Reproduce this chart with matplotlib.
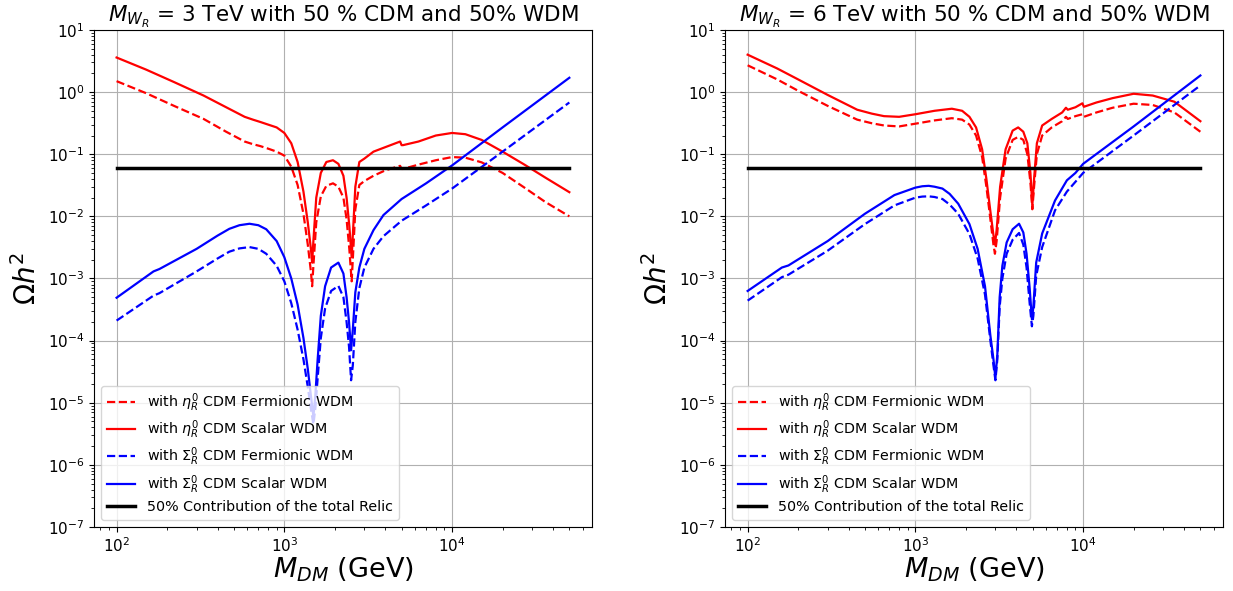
import matplotlib
matplotlib.use("Agg")
import matplotlib.pyplot as plt
from matplotlib.ticker import LogLocator, NullFormatter

# ---------------- data ----------------
# Left panel: M_WR = 3 TeV
relic_half = 0.06

m_eta_l = [100, 150, 220, 330, 450, 580, 650, 720, 800, 900, 1000, 1100, 1200, 1300, 1380, 1440, 1465,
           1490, 1550, 1650, 1780, 1950, 2100, 2250, 2350, 2440, 2520, 2570, 2650, 2800, 3000,
           3400, 4000, 4900, 5000, 5100, 6300, 8000, 10000, 12000, 15000, 20000, 27000, 36000, 50000]
eta_scalar_l = [3.6, 2.3, 1.45, 0.88, 0.57, 0.40, 0.36, 0.33, 0.30, 0.27, 0.22, 0.15, 0.075, 0.025, 0.008, 0.003, 0.0018,
                0.004, 0.02, 0.05, 0.075, 0.08, 0.07, 0.045, 0.02, 0.007, 0.0022, 0.006, 0.03, 0.075, 0.085,
                0.11, 0.13, 0.16, 0.14, 0.14, 0.16, 0.2, 0.22, 0.21, 0.17, 0.11, 0.068, 0.042, 0.0245]
eta_fermion_l = [1.5, 0.96, 0.6, 0.37, 0.23, 0.16, 0.145, 0.135, 0.123, 0.11, 0.095, 0.063, 0.032, 0.011, 0.0035, 0.0013, 0.00075,
                 0.0016, 0.008, 0.021, 0.031, 0.034, 0.03, 0.02, 0.009, 0.003, 0.0009, 0.0025, 0.013, 0.032, 0.037,
                 0.045, 0.055, 0.065, 0.058, 0.058, 0.068, 0.08, 0.09, 0.088, 0.074, 0.05, 0.029, 0.017, 0.01]

m_sig_l = [100, 166, 180, 300, 400, 470, 540, 620, 700, 780, 900, 1000, 1100, 1200, 1300, 1380, 1440, 1490, 1530,
           1580, 1650, 1750, 1900, 2100, 2250, 2350, 2430, 2500, 2560, 2650, 2800, 3000, 3400, 3900,
           5000, 7000, 10000, 20000, 50000]
sig_scalar_l = [4.9e-4, 1.3e-3, 1.42e-3, 3.0e-3, 4.9e-3, 6.3e-3, 7.2e-3, 7.6e-3, 7.2e-3, 6.2e-3, 4.0e-3, 2.2e-3, 1.0e-3,
                3.8e-4, 1.1e-4, 3.5e-5, 1.3e-5, 6e-6, 1.3e-5, 5e-5, 2.5e-4, 7.5e-4, 1.5e-3, 1.8e-3, 1.2e-3, 5e-4,
                2e-4, 7e-5, 1.5e-4, 6e-4, 1.5e-3, 3e-3, 6e-3, 1.05e-2, 1.9e-2, 3.4e-2, 6.6e-2, 0.27, 1.7]
sig_fermion_l = [2.1e-4, 5.3e-4, 5.8e-4, 1.3e-3, 2.1e-3, 2.7e-3, 3.05e-3, 3.2e-3, 3.0e-3, 2.5e-3, 1.6e-3, 9e-4, 4e-4,
                 1.5e-4, 5e-5, 1.8e-5, 8e-6, 4.5e-6, 8e-6, 2.5e-5, 1.1e-4, 3.3e-4, 6.3e-4, 7.6e-4, 5e-4, 2e-4,
                 8e-5, 2.3e-5, 4e-5, 2e-4, 7e-4, 1.5e-3, 3e-3, 4.8e-3, 8.5e-3, 1.5e-2, 2.8e-2, 0.11, 0.68]

# Right panel: M_WR = 6 TeV
m_eta_r = [100, 150, 200, 300, 450, 550, 650, 800, 1000, 1300, 1650, 1900, 2100, 2300, 2500, 2650, 2800,
           2920, 2980, 3050, 3200, 3450, 3800, 4100, 4400, 4650, 4850, 4980, 5100, 5300, 5700, 6500,
           7500, 7900, 8100, 9000, 9900, 10100, 12000, 15000, 20000, 26000, 35000, 50000]
eta_scalar_r = [4.0, 2.4, 1.6, 0.9, 0.52, 0.45, 0.41, 0.40, 0.44, 0.5, 0.54, 0.5, 0.4, 0.27, 0.12, 0.04, 0.012,
                0.005, 0.0035, 0.006, 0.03, 0.12, 0.24, 0.27, 0.23, 0.15, 0.05, 0.015, 0.04, 0.15, 0.29, 0.37,
                0.47, 0.56, 0.52, 0.57, 0.66, 0.58, 0.68, 0.8, 0.94, 0.88, 0.7, 0.34]
eta_fermion_r = [2.7, 1.6, 1.05, 0.6, 0.36, 0.315, 0.29, 0.28, 0.31, 0.35, 0.38, 0.36, 0.3, 0.2, 0.09, 0.03, 0.009,
                 0.0035, 0.0025, 0.004, 0.02, 0.085, 0.17, 0.19, 0.17, 0.1, 0.035, 0.013, 0.03, 0.1, 0.2, 0.27,
                 0.34, 0.4, 0.37, 0.41, 0.44, 0.4, 0.47, 0.56, 0.65, 0.62, 0.47, 0.23]

m_sig_r = [100, 160, 175, 300, 500, 750, 1000, 1100, 1200, 1300, 1450, 1600, 1800, 2100, 2350, 2600, 2800, 2920, 3000,
           3080, 3180, 3300, 3500, 3800, 4150, 4400, 4600, 4800, 4950, 5050, 5250, 5700, 6800, 8000,
           9000, 10000, 20000, 50000]
sig_scalar_r = [6.3e-4, 1.5e-3, 1.62e-3, 4e-3, 0.011, 0.022, 0.029, 0.0305, 0.031, 0.030, 0.028, 0.023, 0.016, 7.5e-3,
                3e-3, 7.5e-4, 1.2e-4, 5e-5, 2.5e-5, 6e-5, 5e-4, 1.6e-3, 3.8e-3, 6.2e-3, 7.6e-3, 5.5e-3, 2.5e-3,
                7e-4, 2.2e-4, 3.5e-4, 1.8e-3, 5.3e-3, 0.018, 0.038, 0.05, 0.07, 0.28, 1.85]
sig_fermion_r = [4.4e-4, 1.05e-3, 1.15e-3, 2.8e-3, 7.5e-3, 0.015, 0.02, 0.0208, 0.021, 0.0205, 0.019, 0.0155, 0.011,
                 5.2e-3, 2.1e-3, 5.5e-4, 1e-4, 4e-5, 2.3e-5, 5e-5, 3.5e-4, 1e-3, 2.5e-3, 4.2e-3, 5.4e-3, 3.5e-3,
                 1.5e-3, 4e-4, 1.7e-4, 2.5e-4, 1.1e-3, 3.2e-3, 0.0125, 0.025, 0.036, 0.05, 0.2, 1.28]

m_range = [100, 50000]

panels = [
    ("3", m_eta_l, eta_fermion_l, eta_scalar_l, m_sig_l, sig_fermion_l, sig_scalar_l),
    ("6", m_eta_r, eta_fermion_r, eta_scalar_r, m_sig_r, sig_fermion_r, sig_scalar_r),
]

fig = plt.figure(figsize=(12.33, 5.91), dpi=100)
ax_pos = [[0.0762, 0.1083, 0.4039, 0.841], [0.588, 0.1083, 0.4039, 0.841]]

for pos, (mwr, m_eta, eta_f, eta_s, m_sig, sig_f, sig_s) in zip(ax_pos, panels):
    ax = fig.add_axes(pos)
    ax.plot(m_eta, eta_f, 'r', linestyle='dashed', lw=1.6, label=r'with $\eta_R^0$ CDM Fermionic WDM')
    ax.plot(m_eta, eta_s, 'r', linestyle='solid', lw=1.6, label=r'with $\eta_R^0$ CDM Scalar WDM')
    ax.plot(m_sig, sig_f, 'b', linestyle='dashed', lw=1.6, label=r'with $\Sigma_R^0$ CDM Fermionic WDM')
    ax.plot(m_sig, sig_s, 'b', linestyle='solid', lw=1.6, label=r'with $\Sigma_R^0$ CDM Scalar WDM')
    ax.plot(m_range, [relic_half, relic_half], 'k', lw=2.5, label='50% Contribution of the total Relic')
    ax.set_xscale('log')
    ax.set_yscale('log')
    ax.set_ylim(1e-7, 10)
    ax.yaxis.set_major_locator(LogLocator(base=10, numticks=20))
    ax.yaxis.set_minor_locator(LogLocator(base=10, subs=range(2, 10), numticks=100))
    ax.yaxis.set_minor_formatter(NullFormatter())
    ax.grid(which='major', color='#b0b0b0', lw=0.8)
    ax.tick_params(labelsize=11)
    ax.set_title(r'$M_{W_R}$ = ' + mwr + ' TeV with 50 % CDM and 50% WDM', fontsize=15.5)
    ax.set_xlabel(r'$M_{DM}$ (GeV)', fontsize=19.5, labelpad=0)
    ax.set_ylabel(r'$\Omega h^2$', fontsize=20)
    leg = ax.legend(loc='lower left', fontsize=10.3, labelspacing=0.32)

fig.savefig("out.png", dpi=100)
